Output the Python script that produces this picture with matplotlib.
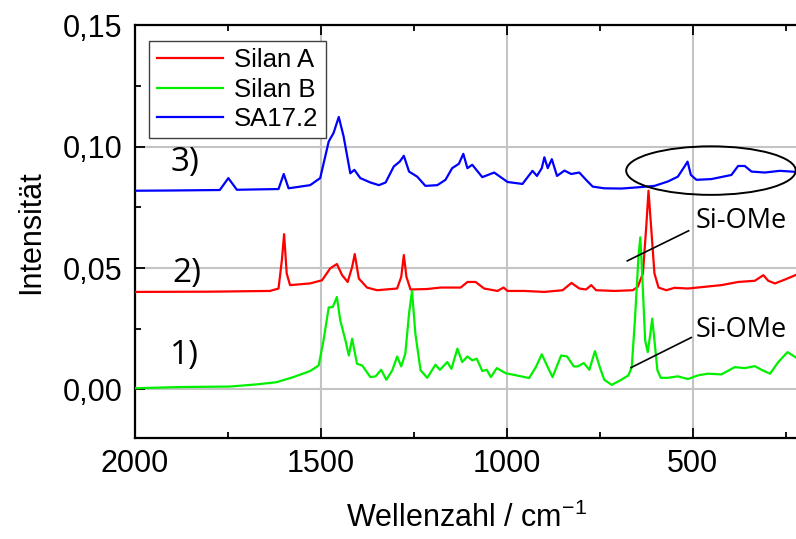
import matplotlib

matplotlib.use("Agg")
import matplotlib.pyplot as plt
from matplotlib.patches import Ellipse
from matplotlib.ticker import FuncFormatter, MultipleLocator


# Silan A (red)
silan_a_wavenumber = [
    2000, 1800, 1637, 1614, 1605, 1599, 1592, 1583, 1529, 1497,
    1475, 1457, 1443, 1428, 1416, 1409, 1398, 1376, 1349, 1295,
    1284, 1277, 1270, 1259, 1214, 1178, 1124, 1106, 1084, 1061,
    1025, 1009, 998, 953, 899, 850, 826, 805, 787, 773,
    760, 710, 661, 648, 634, 625, 619, 612, 603, 592,
    571, 549, 513, 468, 423, 378, 333, 310, 297, 279,
    252, 218,
]
silan_a_intensity = [
    0.0402, 0.0403, 0.0406, 0.0416, 0.0533, 0.0640, 0.0478, 0.0430, 0.0437, 0.0450,
    0.0499, 0.0517, 0.0471, 0.0443, 0.0505, 0.0558, 0.0457, 0.0420, 0.0409, 0.0416,
    0.0464, 0.0554, 0.0464, 0.0412, 0.0414, 0.0420, 0.0420, 0.0443, 0.0443, 0.0416,
    0.0406, 0.0420, 0.0406, 0.0406, 0.0402, 0.0409, 0.0439, 0.0416, 0.0412, 0.0430,
    0.0409, 0.0406, 0.0409, 0.0423, 0.0478, 0.0671, 0.0819, 0.0671, 0.0478, 0.0420,
    0.0409, 0.0419, 0.0416, 0.0423, 0.0430, 0.0443, 0.0448, 0.0471, 0.0448, 0.0437,
    0.0453, 0.0475,
]

# Silan B (green)
silan_b_wavenumber = [
    2000, 1879, 1745, 1672, 1619, 1574, 1529, 1506, 1493, 1479,
    1468, 1457, 1448, 1434, 1425, 1416, 1403, 1389, 1367, 1353,
    1338, 1324, 1308, 1295, 1284, 1273, 1263, 1255, 1246, 1232,
    1214, 1192, 1180, 1160, 1149, 1133, 1120, 1106, 1093, 1081,
    1066, 1054, 1043, 1027, 1003, 971, 940, 922, 906, 890,
    877, 854, 838, 820, 809, 793, 778, 763, 750, 738,
    718, 692, 673, 664, 655, 646, 641, 636, 628, 621,
    614, 609, 603, 595, 586, 567, 540, 513, 486, 459,
    423, 387, 360, 333, 315, 292, 270, 245, 218,
]
silan_b_intensity = [
    0.0005, 0.0010, 0.0012, 0.0021, 0.0030, 0.0051, 0.0076, 0.0099, 0.0202, 0.0338,
    0.0340, 0.0381, 0.0285, 0.0202, 0.0140, 0.0209, 0.0106, 0.0099, 0.0051, 0.0054,
    0.0081, 0.0040, 0.0079, 0.0136, 0.0095, 0.0148, 0.0313, 0.0406, 0.0230, 0.0079,
    0.0048, 0.0102, 0.0081, 0.0113, 0.0085, 0.0168, 0.0113, 0.0136, 0.0120, 0.0127,
    0.0076, 0.0081, 0.0051, 0.0088, 0.0067, 0.0057, 0.0047, 0.0092, 0.0145, 0.0092,
    0.0051, 0.0140, 0.0136, 0.0095, 0.0095, 0.0109, 0.0081, 0.0158, 0.0092, 0.0040,
    0.0019, 0.0040, 0.0058, 0.0092, 0.0299, 0.0547, 0.0627, 0.0478, 0.0202, 0.0154,
    0.0230, 0.0292, 0.0202, 0.0079, 0.0048, 0.0048, 0.0054, 0.0043, 0.0058, 0.0065,
    0.0062, 0.0092, 0.0088, 0.0096, 0.0081, 0.0065, 0.0113, 0.0154, 0.0127,
]

# SA17.2 (blue)
sa172_wavenumber = [
    2000, 1900, 1772, 1749, 1726, 1614, 1600, 1587, 1529, 1502,
    1479, 1466, 1452, 1439, 1421, 1410, 1394, 1367, 1344, 1326,
    1304, 1288, 1277, 1263, 1241, 1219, 1187, 1165, 1147, 1129,
    1117, 1106, 1093, 1066, 1034, 998, 958, 931, 919, 906,
    899, 890, 879, 865, 845, 827, 805, 787, 769, 738,
    692, 648, 603, 567, 540, 522, 514, 505, 490, 450,
    396, 378, 360, 342, 306, 266, 225, 218,
]
sa172_intensity = [
    0.0819, 0.0820, 0.0822, 0.0871, 0.0823, 0.0826, 0.0888, 0.0829, 0.0842, 0.0871,
    0.1022, 0.1057, 0.1123, 0.1043, 0.0891, 0.0905, 0.0871, 0.0853, 0.0842, 0.0853,
    0.0919, 0.0939, 0.0963, 0.0898, 0.0877, 0.0839, 0.0842, 0.0864, 0.0912, 0.0930,
    0.0971, 0.0912, 0.0926, 0.0875, 0.0894, 0.0855, 0.0847, 0.0901, 0.0880, 0.0912,
    0.0957, 0.0912, 0.0949, 0.0880, 0.0902, 0.0888, 0.0894, 0.0864, 0.0836, 0.0829,
    0.0828, 0.0833, 0.0839, 0.0857, 0.0877, 0.0919, 0.0939, 0.0884, 0.0864, 0.0867,
    0.0884, 0.0921, 0.0921, 0.0898, 0.0894, 0.0901, 0.0897, 0.0897,
]

series_labels = ["Silan A", "Silan B", "SA17.2"]
series_colors = ["#ff0000", "#00f000", "#0000ff"]

# trace numbers and Si-OMe callouts (data coordinates)
trace_labels = ["1)", "2)", "3)"]
trace_label_x = [1866, 1861, 1866]
trace_label_y = [0.0140, 0.0478, 0.0934]

callout_text_x = [493, 493]
callout_text_y = [0.0695, 0.0244]
callout_line_x = [(676, 511), (666, 504)]
callout_line_y = [(0.0530, 0.0654), (0.0090, 0.0214)]

SANS = "Liberation Sans"
NOTE = "Open Sans"


def comma_format(value, _pos):
    return f"{value:.2f}".replace(".", ",")


def main():
    fig = plt.figure(figsize=(7.96, 5.39), dpi=100)
    ax = fig.add_axes([0.1696, 0.1874, 0.8304 + 0.002, 0.7653])

    spectra = [
        (silan_a_wavenumber, silan_a_intensity),
        (silan_b_wavenumber, silan_b_intensity),
        (sa172_wavenumber, sa172_intensity),
    ]
    for (xs, ys), label, color in zip(spectra, series_labels, series_colors):
        ax.plot(xs, ys, color=color, linewidth=1.6, label=label, zorder=3)

    ax.set_xlim(2000, 218)
    ax.set_ylim(-0.02, 0.15)
    ax.xaxis.set_major_locator(MultipleLocator(500))
    ax.xaxis.set_minor_locator(MultipleLocator(250))
    ax.yaxis.set_major_locator(MultipleLocator(0.05))
    ax.yaxis.set_minor_locator(MultipleLocator(0.025))
    ax.yaxis.set_major_formatter(FuncFormatter(comma_format))

    ax.set_axisbelow(True)
    ax.grid(True, which="major", color="#c4c4c4", linewidth=1.5)
    ax.tick_params(which="both", direction="in", top=True, width=1.3,
                   labelsize=22, colors="black")
    ax.tick_params(which="major", length=7)
    ax.tick_params(which="minor", length=4.5)
    ax.tick_params(axis="y", pad=9)
    ax.tick_params(axis="x", pad=8)
    for label in ax.get_xticklabels() + ax.get_yticklabels():
        label.set_fontfamily(SANS)
    for spine in ax.spines.values():
        spine.set_linewidth(1.6)

    ax.set_xlabel("Wellenzahl / cm$^{\\mathregular{-1}}$", fontsize=22,
                  family=SANS, labelpad=17)
    ax.set_ylabel("Intensität", fontsize=22, family=SANS, labelpad=12)

    for text, x, y in zip(trace_labels, trace_label_x, trace_label_y):
        ax.text(x, y, text, fontsize=24, family=NOTE, ha="center", va="center")

    for tx, ty, lx, ly in zip(callout_text_x, callout_text_y,
                              callout_line_x, callout_line_y):
        ax.plot(lx, ly, color="black", linewidth=1.2, zorder=4)
        ax.text(tx, ty, "Si-OMe", fontsize=19.5, family=NOTE, ha="left",
                va="center")

    ax.add_patch(Ellipse((451, 0.0902), 456, 0.020, fill=False,
                         edgecolor="black", linewidth=1.4, zorder=4))

    legend = ax.legend(loc="upper left", bbox_to_anchor=(0.021, 0.963),
                       prop={"family": SANS, "size": 18.5}, frameon=True,
                       fancybox=False, edgecolor="#404040", framealpha=1,
                       handlelength=2.6, handletextpad=0.4,
                       labelspacing=0.2, borderpad=0.3, borderaxespad=0)
    legend.get_frame().set_linewidth(1.0)

    fig.savefig("out.png", dpi=100)
    plt.close(fig)


if __name__ == "__main__":
    main()
